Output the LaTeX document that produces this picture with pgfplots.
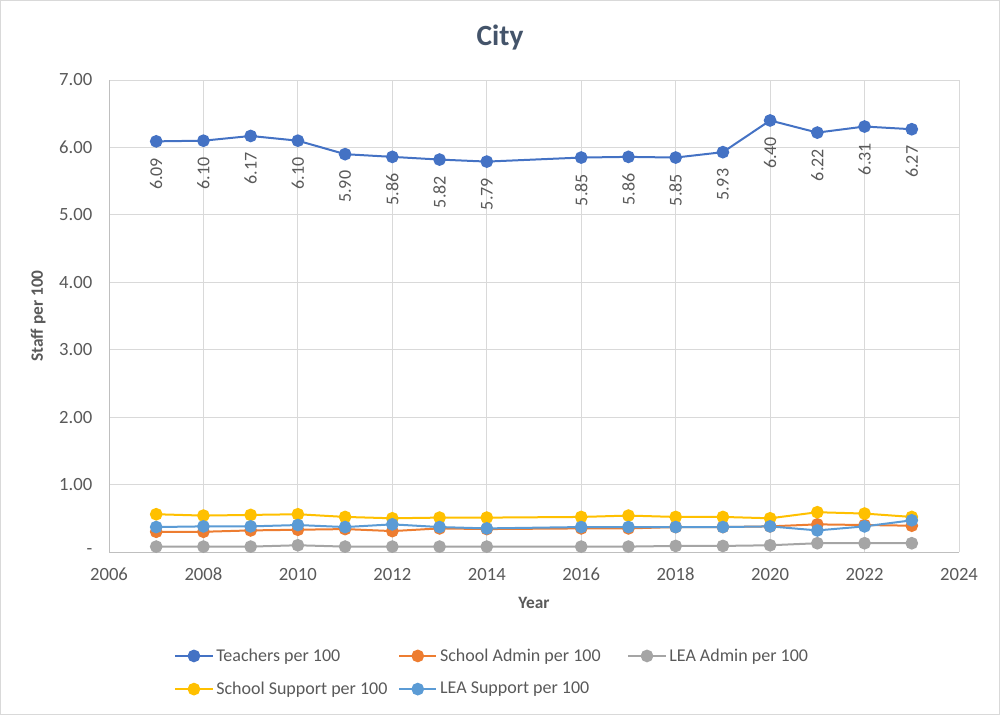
\documentclass[border=0pt]{standalone}
\usepackage{fontspec}
\setmainfont{Carlito}
\usepackage{pgfplots}
\usepackage{pgfplotstable}
\pgfplotsset{compat=1.18}

\definecolor{teachc}{HTML}{4472C4}
\definecolor{sadmc}{HTML}{ED7D31}
\definecolor{ladmc}{HTML}{A5A5A5}
\definecolor{ssupc}{HTML}{FFC000}
\definecolor{lsupc}{HTML}{5B9BD5}
\definecolor{gridc}{HTML}{D9D9D9}
\definecolor{axisc}{HTML}{BFBFBF}
\definecolor{textc}{HTML}{595959}
\definecolor{titlec}{HTML}{44546A}
\definecolor{framec}{HTML}{D9D9D9}

% staff per 100, by year (no 2015)
\pgfplotstableread{
year teach sadm ladm ssup lsup
2007 6.09 0.30 0.08 0.56 0.37
2008 6.10 0.30 0.08 0.54 0.38
2009 6.17 0.32 0.08 0.55 0.38
2010 6.10 0.33 0.10 0.56 0.40
2011 5.90 0.34 0.08 0.52 0.37
2012 5.86 0.31 0.08 0.50 0.41
2013 5.82 0.35 0.08 0.51 0.37
2014 5.79 0.34 0.08 0.51 0.35
2016 5.85 0.35 0.08 0.52 0.37
2017 5.86 0.35 0.08 0.54 0.37
2018 5.85 0.37 0.09 0.52 0.37
2019 5.93 0.37 0.09 0.52 0.37
2020 6.40 0.38 0.10 0.50 0.38
2021 6.22 0.41 0.13 0.59 0.32
2022 6.31 0.40 0.13 0.57 0.38
2023 6.27 0.39 0.13 0.52 0.47
}\citydata

\begin{document}
\begin{tikzpicture}[x=1pt,y=1pt]
\draw[framec, line width=0.75pt] (0.375,0.375) rectangle (749.625,535.875);
\node[font=\fontsize{22}{26}\selectfont\bfseries, text=titlec] at (375,507.75) {City};
\begin{axis}[
  at={(81.75pt,122.25pt)}, anchor=south west,
  scale only axis, width=637.5pt, height=354pt,
  xmin=2006, xmax=2024, ymin=0, ymax=7,
  xtick={2006,2008,...,2024}, ytick={0,1,...,7},
  yticklabels={-,1.00,2.00,3.00,4.00,5.00,6.00,7.00},
  major tick length=0pt,
  axis x line*=bottom, axis y line*=left,
  axis line style={draw=axisc, line width=0.75pt, -},
  grid=major,
  major grid style={draw=gridc, line width=0.75pt},
  /pgf/number format/assume math mode=true,
  xticklabel style={/pgf/number format/1000 sep=, yshift=-8pt,
    anchor=north, text height=10pt, text depth=0pt},
  yticklabel style={xshift=-9pt},
  tick label style={font=\fontsize{14}{16}\selectfont, text=textc},
  xlabel={Year}, ylabel={Staff per 100},
  label style={font=\fontsize{13}{15}\selectfont\bfseries, text=textc},
  xlabel style={at={(axis description cs:0.5,-0.108)}, anchor=center},
  ylabel style={at={(axis description cs:-0.0835,0.5)}, anchor=center},
  every axis plot/.append style={line width=1.5pt, mark=*, mark size=4pt},
  legend columns=3,
  legend cell align=left,
  legend style={at={(axis description cs:0.0718,-0.193)}, anchor=north west,
    draw=none, fill=none, font=\fontsize{13.5}{15}\selectfont, text=textc,
    /tikz/column 2/.style={column sep=6pt},
    /tikz/column 4/.style={column sep=18pt},
    row sep=10pt},
  legend image code/.code={%
    \draw[#1, mark repeat=2, mark phase=2]
      plot coordinates {(0pt,0pt) (14pt,0pt) (28pt,0pt)};},
]
\addplot[color=teachc, mark options={fill=teachc},
  nodes near coords={\pgfmathprintnumber[fixed,fixed zerofill,precision=2]{\pgfplotspointmeta}},
  nodes near coords style={yshift=-9pt, rotate=90, anchor=east, inner xsep=2.7pt,
    font=\fontsize{13.5}{15}\selectfont, text=textc}]
  table[x=year, y=teach] {\citydata};
\addlegendentry{Teachers per 100}
\addplot[color=sadmc, mark options={fill=sadmc}] table[x=year, y=sadm] {\citydata};
\addlegendentry{School Admin per 100}
\addplot[color=ladmc, mark options={fill=ladmc}] table[x=year, y=ladm] {\citydata};
\addlegendentry{LEA Admin per 100}
\addplot[color=ssupc, mark options={fill=ssupc}] table[x=year, y=ssup] {\citydata};
\addlegendentry{School Support per 100}
\addplot[color=lsupc, mark options={fill=lsupc}] table[x=year, y=lsup] {\citydata};
\addlegendentry{LEA Support per 100}
\end{axis}
\end{tikzpicture}
\end{document}
